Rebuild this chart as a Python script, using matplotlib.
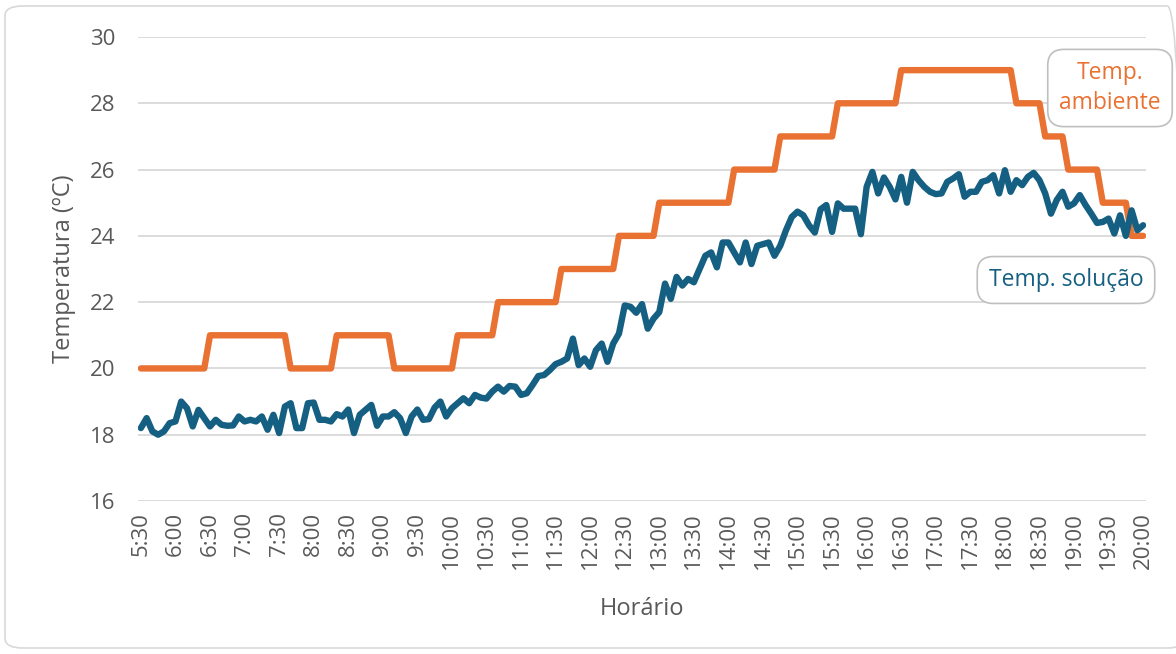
import matplotlib.pyplot as plt
from matplotlib.patches import FancyBboxPatch
import numpy as np

plt.rcParams['font.family'] = ['Open Sans', 'DejaVu Sans']

# leituras a cada 5 minutos, das 5:30 as 20:00
temp_solucao = [
    18.2, 18.5, 18.1, 18.0, 18.1, 18.35, 18.4, 19.0, 18.8, 18.25,
    18.75, 18.5, 18.25, 18.45, 18.3, 18.27, 18.28, 18.55, 18.4, 18.45,
    18.4, 18.55, 18.15, 18.6, 18.05, 18.85, 18.95, 18.2, 18.2, 18.95,
    18.97, 18.45, 18.45, 18.4, 18.62, 18.55, 18.76, 18.05, 18.6, 18.75,
    18.9, 18.27, 18.55, 18.55, 18.68, 18.5, 18.05, 18.55, 18.76, 18.45,
    18.47, 18.82, 19.0, 18.55, 18.8, 18.95, 19.1, 18.95, 19.2, 19.12,
    19.09, 19.3, 19.45, 19.3, 19.47, 19.45, 19.2, 19.25, 19.5, 19.77,
    19.8, 19.95, 20.13, 20.2, 20.3, 20.9, 20.1, 20.3, 20.05, 20.55,
    20.75, 20.2, 20.75, 21.05, 21.9, 21.86, 21.68, 21.94, 21.2, 21.5,
    21.7, 22.56, 22.1, 22.76, 22.5, 22.7, 22.6, 23.0, 23.4, 23.5,
    23.05, 23.8, 23.8, 23.5, 23.2, 23.8, 23.15, 23.7, 23.75, 23.8,
    23.4, 23.7, 24.17, 24.57, 24.73, 24.62, 24.32, 24.1, 24.8, 24.93,
    24.12, 24.98, 24.82, 24.82, 24.82, 24.05, 25.48, 25.93, 25.28, 25.76,
    25.48, 25.1, 25.78, 25.0, 25.93, 25.68, 25.48, 25.33, 25.26, 25.28,
    25.63, 25.73, 25.86, 25.18, 25.33, 25.33, 25.63, 25.68, 25.83, 25.28,
    25.98, 25.33, 25.68, 25.53, 25.78, 25.9, 25.68, 25.28, 24.67, 25.08,
    25.33, 24.88, 24.98, 25.23, 24.93, 24.67, 24.39, 24.42, 24.52, 24.07,
    24.62, 24.0, 24.77, 24.17, 24.32,
]

temp_ambiente = (
    [20] * 12 + [21] * 14 + [20] * 8 + [21] * 10 + [20] * 11 + [21] * 7
    + [22] * 11 + [23] * 10 + [24] * 7 + [25] * 13 + [26] * 8 + [27] * 10
    + [28] * 11 + [29] * 20 + [28] * 5 + [27] * 4 + [26] * 6 + [25] * 5
    + [24] * 3
)

horarios = ['5:30', '6:00', '6:30', '7:00', '7:30', '8:00', '8:30', '9:00',
            '9:30', '10:00', '10:30', '11:00', '11:30', '12:00', '12:30',
            '13:00', '13:30', '14:00', '14:30', '15:00', '15:30', '16:00',
            '16:30', '17:00', '17:30', '18:00', '18:30', '19:00', '19:30',
            '20:00']

laranja = '#E97132'
azul = '#156082'
cinza = '#595959'

x = np.arange(len(temp_solucao))

fig = plt.figure(figsize=(11.76, 6.54), dpi=100)
ax = fig.add_axes([138 / 1176, 1 - 501 / 654, (1146 - 138) / 1176, (501 - 37) / 654])

ax.plot(x, temp_ambiente, color=laranja, lw=4.6, solid_joinstyle='round', solid_capstyle='round')
ax.plot(x, temp_solucao, color=azul, lw=4.6, solid_joinstyle='round', solid_capstyle='round')

ax.set_xlim(-0.5, len(x) - 0.5)
ax.set_ylim(16, 30)
ax.set_yticks(np.arange(16, 31, 2))
ax.set_xticks(np.arange(0, len(x), 6))
ax.set_xticklabels(horarios, rotation=90)

for s in ax.spines.values():
    s.set_visible(False)
ax.yaxis.grid(True, color='#d9d9d9', lw=1.3)
ax.set_axisbelow(True)
ax.tick_params(axis='both', length=0, labelsize=16, labelcolor=cinza)
ax.tick_params(axis='y', pad=16)
ax.tick_params(axis='x', pad=8)

ax.set_xlabel('Horário', fontsize=17, color=cinza, labelpad=20)
ax.set_ylabel('Temperatura (ºC)', fontsize=17, color=cinza, labelpad=10)

caixa = dict(boxstyle='round,pad=0.5,rounding_size=0.7', fc='white', ec='#bfbfbf', lw=1.2)
fig.text(1110 / 1176, 1 - 88 / 654, 'Temp.\nambiente', color=laranja, fontsize=16.5,
         ha='center', va='center', linespacing=1.35, bbox=caixa)
fig.text(1066 / 1176, 1 - 280 / 654, 'Temp. solução', color=azul, fontsize=16.5,
         ha='center', va='center', bbox=caixa)

# borda da area do grafico
borda = FancyBboxPatch((5 / 1176, 6 / 654), 1180 / 1176, 642 / 654,
                       boxstyle='round,pad=0,rounding_size=0.015',
                       transform=fig.transFigure, fill=False, ec='#d9d9d9', lw=1.2)
fig.patches.append(borda)

plt.savefig('out.png', dpi=100)
